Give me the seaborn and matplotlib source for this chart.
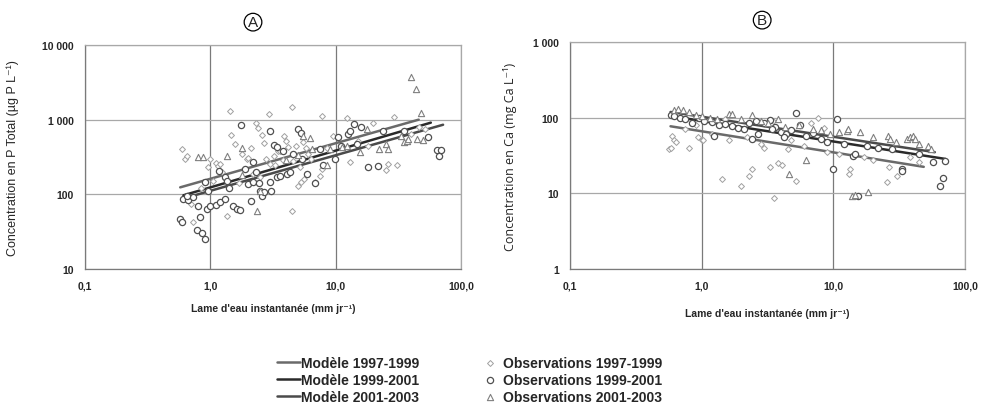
import numpy as np
import pandas as pd
import matplotlib.pyplot as plt
import seaborn as sns
from matplotlib.ticker import NullLocator

sns.set_style("white")
plt.rcParams['font.family'] = ['Liberation Sans', 'DejaVu Sans']

# ---- axis ticks ----
x_ticks = [0.1, 1, 10, 100]
x_ticklabels = ["0,1", "1,0", "10,0", "100,0"]
ya_ticks = [10, 100, 1000, 10000]
ya_ticklabels = ["10", "100", "1 000", "10 000"]
yb_ticks = [1, 10, 100, 1000]
yb_ticklabels = ["1", "10", "100", "1 000"]

model_names = ["Modèle 1997-1999", "Modèle 1999-2001", "Modèle 2001-2003"]
obs_names = ["Observations 1997-1999", "Observations 1999-2001", "Observations 2001-2003"]

# ---- Panel A : P total ----
# model lines (start / end)
a_model_x = [[0.575, 46.0], [0.61, 57.5], [0.61, 72.0]]
a_model_y = [[124, 1000], [97, 912], [88, 855]]

a_obs1_x = [0.59, 0.63, 0.65, 0.70, 0.73, 0.95, 1.00, 1.10, 1.15, 1.20,
            1.30, 1.36, 1.44, 1.46, 1.57, 1.70, 1.95, 2.00, 2.20, 2.30,
            2.40, 2.50, 2.60, 2.80, 2.94, 3.00, 3.30, 3.50, 3.60, 3.90,
            4.20, 4.50, 4.50, 4.80, 5.00, 5.30, 5.50, 5.60, 6.00, 6.90,
            7.50, 7.80, 7.80, 8.50, 9.50, 12.3, 13.0, 15.0, 20.0, 25.0,
            26.0, 29.0, 31.0, 40.0, 46.0, 52.0, 0.85, 1.05, 1.25, 1.80,
            2.10, 2.70, 3.20, 3.80, 4.00, 4.60, 5.20, 5.80, 6.40, 18.0]
a_obs1_y = [406, 298, 330, 75, 43, 230, 300, 260, 240, 255,
            170, 51, 1306, 624, 473, 140, 300, 308, 190, 905,
            775, 170, 625, 300, 1190, 255, 250, 380, 380, 610,
            430, 1480, 60, 450, 130, 147, 500, 162, 350, 148,
            175, 1120, 220, 420, 600, 1050, 270, 520, 900, 212,
            255, 1100, 248, 650, 800, 750, 120, 150, 200, 350,
            420, 480, 330, 290, 520, 280, 230, 420, 300, 450]

a_obs2_x = [0.57, 0.59, 0.61, 0.66, 0.73, 0.78, 0.80, 0.83, 0.86, 0.91,
            0.91, 0.94, 1.00, 1.10, 1.17, 1.20, 1.30, 1.30, 1.36, 1.53,
            1.63, 1.72, 1.76, 1.90, 2.00, 2.10, 2.20, 2.20, 2.45, 2.50,
            2.60, 2.70, 3.00, 3.00, 3.05, 3.20, 3.40, 3.40, 3.60, 4.10,
            4.30, 5.00, 5.30, 5.40, 5.90, 6.80, 9.80, 10.4, 12.5, 13.0,
            14.0, 14.7, 18.2, 21.6, 24.0, 55.0, 64.0, 67.0, 69.0, 35.0,
            0.65, 0.95, 1.40, 2.30, 3.80, 4.60, 7.50, 11.0, 16.0, 8.00]
a_obs2_y = [47, 43, 87, 83, 92, 33, 70, 50, 30, 25,
            147, 64, 70, 73, 207, 78, 87, 170, 150, 70,
            64, 62, 849, 220, 138, 82, 147, 272, 142, 112,
            95, 108, 706, 147, 112, 460, 435, 170, 176, 188,
            200, 752, 662, 300, 188, 142, 300, 590, 650, 700,
            880, 470, 233, 240, 700, 580, 390, 330, 390, 700,
            95, 110, 120, 200, 380, 350, 400, 450, 800, 250]

a_obs3_x = [0.80, 0.88, 1.36, 1.80, 1.80, 2.35, 2.50, 5.50, 6.20, 8.50,
            9.00, 11.2, 12.3, 15.7, 17.8, 22.0, 25.0, 26.0, 33.0, 35.0,
            37.0, 38.0, 40.0, 43.5, 45.0, 48.0, 50.0, 5.00, 4.00, 6.50]
a_obs3_y = [320, 316, 330, 418, 180, 60, 112, 600, 570, 250,
            400, 430, 450, 370, 750, 400, 470, 400, 600, 500,
            520, 550, 3730, 2580, 550, 1230, 540, 340, 290, 400]

# ---- Panel B : Ca ----
b_model_x = [[0.58, 48.6], [0.58, 71.0], [0.58, 59.0]]
b_model_y = [[77, 22.4], [105, 28.5], [119, 35]]

b_obs1_x = [0.56, 0.58, 0.60, 0.62, 0.64, 0.80, 0.94, 1.00, 1.03, 1.43,
            2.00, 2.30, 2.40, 3.30, 3.55, 3.80, 4.10, 5.20, 13.2, 13.4,
            25.5, 26.6, 30.5, 0.75, 1.20, 1.60, 2.20, 2.80, 3.00, 4.50,
            6.00, 7.60, 9.00, 11.0, 17.0, 20.0, 38.0, 45.0, 0.90, 4.80,
            1.50, 3.50, 6.80, 8.50]
b_obs1_y = [38.6, 40, 57, 50, 48, 40, 56, 50, 50, 15.5,
            12.6, 17, 21, 22, 8.7, 25, 24, 14.6, 18, 21,
            14, 22, 17, 70, 60, 50, 55, 45, 40, 38,
            42, 99, 35, 33, 30, 28, 30, 26, 80, 50,
            95, 90, 85, 72]

b_obs2_x = [0.58, 0.62, 0.68, 0.75, 0.85, 0.95, 1.05, 1.20, 1.35, 1.50,
            1.70, 1.90, 2.10, 2.40, 2.70, 3.00, 3.30, 3.60, 4.00, 4.40,
            4.80, 5.20, 5.60, 6.20, 7.00, 8.00, 9.00, 10.0, 10.7, 12.0,
            14.0, 14.5, 15.5, 18.0, 22.0, 28.0, 33.0, 33.5, 45.0, 57.0,
            65.0, 68.0, 70.0, 1.25, 2.60, 3.40, 2.30, 4.20]
b_obs2_y = [110, 105, 100, 95, 85, 100, 90, 88, 80, 82,
            78, 72, 70, 52, 60, 85, 92, 75, 65, 60,
            68, 115, 80, 58, 62, 52, 48, 21, 96, 45,
            31, 33, 9.3, 42, 40, 38, 21, 20, 33, 26,
            12.6, 16, 27, 58, 90, 70, 85, 55]

b_obs3_x = [0.62, 0.66, 0.72, 0.80, 0.90, 1.00, 1.15, 1.30, 1.60, 1.70,
            2.00, 2.40, 2.80, 3.20, 3.80, 4.30, 4.60, 5.50, 6.20, 7.00,
            8.00, 9.50, 11.0, 12.7, 12.9, 13.9, 14.6, 16.0, 18.2, 20.0,
            26.0, 27.0, 36.0, 38.0, 40.0, 42.0, 45.0, 52.0, 55.0, 30.0]
b_obs3_y = [125, 130, 126, 119, 110, 105, 100, 95, 112, 112,
            95, 109, 90, 85, 95, 75, 18, 80, 28, 70,
            68, 60, 65, 66, 70, 9.3, 9.5, 64, 10.4, 55,
            57, 52, 52, 55, 57, 52, 45, 42, 38, 48]

model_colors = ["#6a6a6a", "#2a2a2a", "#4a4a4a"]
obs_styles = [
    dict(marker="D", s=9, edgecolor="#a0a0a0", linewidth=0.7),
    dict(marker="o", s=20, edgecolor="#505050", linewidth=0.9),
    dict(marker="^", s=20, edgecolor="#808080", linewidth=0.8),
]


def draw_panel(ax, model_x, model_y, obs_x, obs_y, ylim, yticks, yticklabels):
    ax.set_xscale("log")
    ax.set_yscale("log")
    for i in range(3):
        sns.lineplot(x=model_x[i], y=model_y[i], ax=ax, color=model_colors[i],
                     lw=1.8, label=model_names[i], zorder=3)
    for i in range(3):
        sns.scatterplot(x=obs_x[i], y=obs_y[i], ax=ax, color="white",
                        label=obs_names[i], zorder=4, **obs_styles[i])
    if ax.get_legend() is not None:
        ax.get_legend().remove()
    ax.set_xlim(0.1, 100)
    ax.set_ylim(*ylim)
    ax.set_xticks(x_ticks)
    ax.set_xticklabels(x_ticklabels)
    ax.set_yticks(yticks)
    ax.set_yticklabels(yticklabels)
    ax.xaxis.set_minor_locator(NullLocator())
    ax.yaxis.set_minor_locator(NullLocator())
    # vertical grid darker than horizontal one, as in the original
    ax.grid(True, axis="x", which="major", color="#7a7a7a", lw=0.9)
    ax.grid(True, axis="y", which="major", color="#a8a8a8", lw=0.9)
    ax.set_axisbelow(True)
    for side in ["top", "right"]:
        ax.spines[side].set_color("#a8a8a8")
    for side in ["left", "bottom"]:
        ax.spines[side].set_color("#7a7a7a")
    for side in ["left", "bottom", "top", "right"]:
        ax.spines[side].set_linewidth(0.9)
    ax.tick_params(axis="both", length=3, width=0.8, color="#8a8a8a",
                   labelsize=7.5, pad=5)
    for lbl in ax.get_xticklabels() + ax.get_yticklabels():
        lbl.set_fontweight("bold")


fig = plt.figure(figsize=(9.86, 4.06), dpi=100)
ax_a = fig.add_axes([0.0862, 0.335, 0.3813, 0.5517])
ax_b = fig.add_axes([0.5781, 0.335, 0.4006, 0.559])

draw_panel(ax_a, a_model_x, a_model_y, [a_obs1_x, a_obs2_x, a_obs3_x],
           [a_obs1_y, a_obs2_y, a_obs3_y], (10, 10000), ya_ticks, ya_ticklabels)
draw_panel(ax_b, b_model_x, b_model_y, [b_obs1_x, b_obs2_x, b_obs3_x],
           [b_obs1_y, b_obs2_y, b_obs3_y], (1, 1000), yb_ticks, yb_ticklabels)

xlabel = "Lame d'eau instantanée (mm jr\u207b\u00b9)"
ax_a.set_xlabel(xlabel, fontsize=7.5, fontweight="bold")
ax_b.set_xlabel(xlabel, fontsize=7.5, fontweight="bold")
ax_a.xaxis.set_label_coords(0.5, -0.15)
ax_b.xaxis.set_label_coords(0.5, -0.17)

ax_a.set_ylabel("Concentration en P Total (µg P L\u207b\u00b9)", fontsize=9)
ax_b.set_ylabel("Concentration en Ca (mg Ca L\u207b\u00b9)", fontsize=9,
                family=["Open Sans", "DejaVu Sans"])
ax_a.yaxis.set_label_coords(-0.175, 0.5)
ax_b.yaxis.set_label_coords(-0.135, 0.5)

# panel letters
for (px, py, letter) in [(0.2566, 0.943, "A"), (0.773, 0.948, "B")]:
    fig.text(px, py, letter, ha="center", va="center", fontsize=11,
             bbox=dict(boxstyle="circle,pad=0.12", fc="white", ec="black", lw=0.9))

handles, labels = ax_a.get_legend_handles_labels()
order = [labels.index(n) for n in model_names + obs_names]
fig.legend([handles[i] for i in order], [labels[i] for i in order],
           loc="center", bbox_to_anchor=(0.476, 0.062), ncol=2, frameon=False,
           prop=dict(weight="bold", size=10), handlelength=1.66, handletextpad=0.08,
           columnspacing=4.25, labelspacing=0.2, borderpad=0)

fig.savefig("out.png", dpi=100)
